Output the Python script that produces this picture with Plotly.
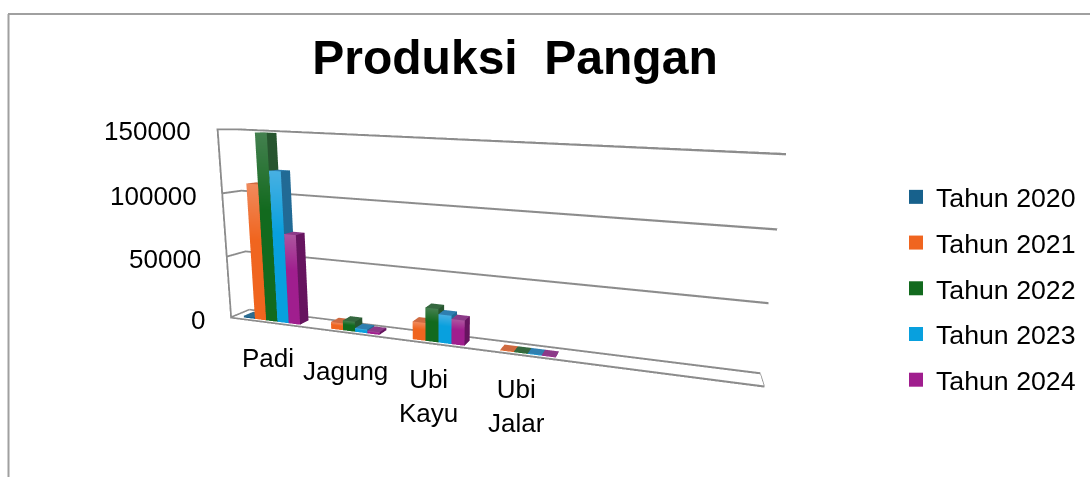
import plotly.graph_objects as go

W, H = 1090, 477

categories = ["Padi", "Jagung", "Ubi<br>Kayu", "Ubi<br>Jalar"]
category_px = [268, 345, 428, 516]
category_py = [358, 371, 396, 406]
series_names = ["Tahun 2020", "Tahun 2021", "Tahun 2022", "Tahun 2023", "Tahun 2024"]
tahun_2020 = [1500, 0, 0, 0]
tahun_2021 = [109000, 5500, 14000, 500]
tahun_2022 = [148000, 8000, 26000, 500]
tahun_2023 = [120000, 3000, 22000, 500]
tahun_2024 = [72000, 2000, 19500, 500]
series_values = [tahun_2020, tahun_2021, tahun_2022, tahun_2023, tahun_2024]
tick_values = [0, 50000, 100000, 150000]
tick_px = [207, 203, 198.5, 193]
tick_py = [320, 259, 196, 131]

front_base = ["#17618c", "#f0651f", "#126a1e", "#08a0de", "#a01e8e"]
front_top = ["#3a7299", "#f08a5c", "#44804f", "#48b0e2", "#ad559f"]
top_col = ["#2c6c90", "#cf6a40", "#35683f", "#2f7fb0", "#8c3a88"]
side_col = ["#114a6a", "#b04c17", "#27552f", "#216a95", "#66145f"]

N_SLOTS = 5.9
BAR_W, GROUP_START = 0.15, 0.12
GRADIENT_FROM = 0.6
Y0, Y1 = 0.25, 0.75
ZMAX = tick_values[-1]
GRID = "#8c8c8c"
TZ = 1500
TX = 0.025


def px(x):
    return x / W


def py(y):
    return 1 - y / H


fig = go.Figure()


def mesh_builder():
    X, Y, Z, I, J, K, C = [], [], [], [], [], [], []

    def quad(pts, cols):
        n = len(X)
        for (a, b, c), col in zip(pts, cols):
            X.append(a); Y.append(b); Z.append(c); C.append(col)
        I.extend([n, n]); J.extend([n + 1, n + 2]); K.extend([n + 2, n + 3])

    return X, Y, Z, I, J, K, C, quad


LIGHT = dict(ambient=1, diffuse=0, specular=0, roughness=1, fresnel=0)

# walls and floor outline
X, Y, Z, I, J, K, C, quad = mesh_builder()
for t in tick_values:
    z0 = min(t, ZMAX - TZ)
    z1 = z0 + TZ
    quad([(0, 0, z0), (0, 1, z0), (0, 1, z1), (0, 0, z1)], [GRID] * 4)
    quad([(0, 1, z0), (N_SLOTS, 1, z0), (N_SLOTS, 1, z1), (0, 1, z1)], [GRID] * 4)
quad([(0, 0, 0), (TX, 0, 0), (TX, 0, ZMAX), (0, 0, ZMAX)], [GRID] * 4)
quad([(0, 0, 0), (N_SLOTS, 0, 0), (N_SLOTS, 0, TZ), (0, 0, TZ)], [GRID] * 4)
quad([(N_SLOTS, 0, 0), (N_SLOTS, 1, 0), (N_SLOTS, 1, TZ), (N_SLOTS, 0, TZ)], [GRID] * 4)
fig.add_trace(go.Mesh3d(x=X, y=Y, z=Z, i=I, j=J, k=K, vertexcolor=C, flatshading=True, lighting=LIGHT,
                        showlegend=False, showscale=False, hoverinfo="skip"))

# bars
for s, vals in enumerate(series_values):
    X, Y, Z, I, J, K, C, quad = mesh_builder()
    for c, v in enumerate(vals):
        if v <= 0:
            continue
        x0 = c + GROUP_START + s * BAR_W
        x1 = x0 + BAR_W
        vm = v * GRADIENT_FROM
        quad([(x0, Y0, 0), (x1, Y0, 0), (x1, Y0, vm), (x0, Y0, vm)], [front_base[s]] * 4)
        quad([(x0, Y0, vm), (x1, Y0, vm), (x1, Y0, v), (x0, Y0, v)],
             [front_base[s], front_base[s], front_top[s], front_top[s]])
        quad([(x0, Y0, v), (x1, Y0, v), (x1, Y1, v), (x0, Y1, v)], [top_col[s]] * 4)
        quad([(x1, Y0, 0), (x1, Y1, 0), (x1, Y1, v), (x1, Y0, v)], [side_col[s]] * 4)
    fig.add_trace(go.Mesh3d(x=X, y=Y, z=Z, i=I, j=J, k=K, vertexcolor=C, flatshading=True, lighting=LIGHT,
                            showlegend=False, showscale=False, name=series_names[s]))
    fig.add_trace(go.Scatter3d(x=[None], y=[None], z=[None], mode="markers", name=series_names[s],
                               marker=dict(symbol="square", size=14, color=front_base[s]),
                               legendgroup=series_names[s], showlegend=True))

hidden = dict(visible=False, showgrid=False, showbackground=False, zeroline=False, showspikes=False)
FONT = dict(family="Liberation Sans", size=26, color="#000000")
cat_ann = [dict(x=px(a), y=py(b), xref="paper", yref="paper", text=c, showarrow=False,
                xanchor="center", yanchor="middle", font=FONT)
           for c, a, b in zip(categories, category_px, category_py)]
tick_ann = [dict(x=px(a), y=py(b), xref="paper", yref="paper", text=str(t), showarrow=False,
                 xanchor="right", yanchor="middle", font=FONT)
            for t, a, b in zip(tick_values, tick_px, tick_py)]

fig.update_layout(
    width=W, height=H, autosize=False, margin=dict(l=0, r=0, t=0, b=0),
    paper_bgcolor="#ffffff", plot_bgcolor="#ffffff",
    title=dict(text="Produksi\u00a0\u00a0Pangan", x=px(515), y=py(57), xanchor="center", yanchor="middle",
               xref="paper", yref="paper",
               font=dict(family="Liberation Sans", size=48, color="#000000", weight="bold")),
    scene=dict(domain=dict(x=[0, 1], y=[0, 1]),
               xaxis=dict(range=[0, N_SLOTS], autorange=False, **hidden),
               yaxis=dict(range=[0, 1], autorange=False, **hidden),
               zaxis=dict(range=[0, ZMAX], autorange=False, **hidden),
               aspectmode="manual", aspectratio=dict(x=1.6719, y=0.0876, z=0.6178),
               camera=dict(eye=dict(x=0.57, y=-1.5769, z=0.3586),
                           center=dict(x=0.1628, y=0.2064, z=-0.0037),
                           up=dict(x=-0.0431, y=0.0204, z=1),
                           projection=dict(type="perspective"))),
    annotations=cat_ann + tick_ann,
    legend=dict(x=px(896), y=py(173), xanchor="left", yanchor="top", tracegroupgap=8,
                font=dict(family="Liberation Sans", size=26.7, color="#000000"), bgcolor="rgba(0,0,0,0)"),
    shapes=[dict(type="line", xref="paper", yref="paper", x0=px(8.5), x1=px(8.5), y0=0, y1=py(14),
                 line=dict(color="#a0a0a0", width=2)),
            dict(type="line", xref="paper", yref="paper", x0=px(8), x1=1, y0=py(14), y1=py(14),
                 line=dict(color="#a0a0a0", width=2))],
)

fig.write_html("out.html", config=dict(displayModeBar=False),
               post_script="document.body.style.margin='0';document.body.style.overflow='hidden';")
